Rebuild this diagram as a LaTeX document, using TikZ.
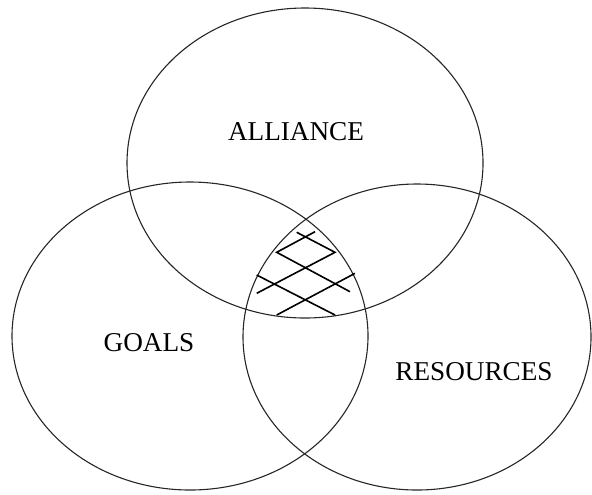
\documentclass[tikz,border=0pt]{standalone}
\usepackage{fontspec}
\setmainfont{Liberation Serif}
\usepackage{tikz}

\begin{document}
\begin{tikzpicture}[
  x=0.5pt, y=-0.5pt,
  set/.style={draw=black!85, line width=0.55pt},
  hatch/.style={draw=black, line width=0.8pt},
  setlabel/.style={font=\fontsize{13.6}{16}\selectfont, inner sep=0pt}
]
\useasboundingbox (0,0) rectangle (592,494);

% the three sets
\draw[set] (305,163) ellipse [x radius=178, y radius=155];
\draw[set] (190,336) ellipse [x radius=178, y radius=154];
\draw[set] (417,337) ellipse [x radius=174, y radius=153];

\node[setlabel] (alliance) at (296,131.5) {ALLIANCE};
\node[setlabel] (goals) at (149,343) {GOALS};
\node[setlabel] (resources) at (474,372) {RESOURCES};

% cross-hatching where all three meet
\draw[hatch] (315,231.7) -- (276.7,252.3) -- (350,291.7);
\draw[hatch] (296.7,232.3) -- (335,252.3) -- (256.7,293.3);
\draw[hatch] (256.7,275) -- (335,315);
\draw[hatch] (355,273.3) -- (276.7,315);
\end{tikzpicture}
\end{document}
